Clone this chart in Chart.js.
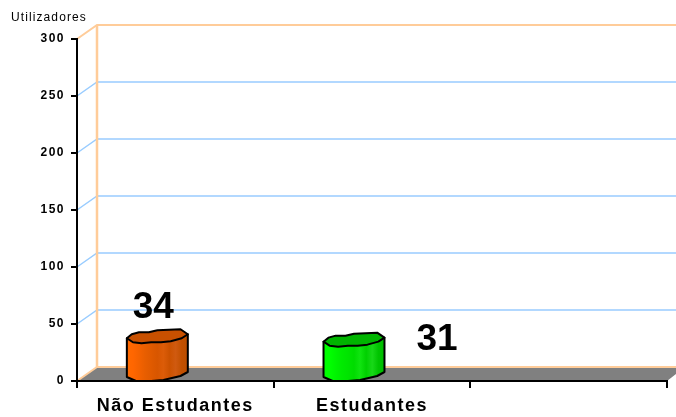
<!DOCTYPE html>
<html lang="pt">
<head>
  <meta charset="UTF-8" />
  <title>Utilizadores</title>
  <script src="https://cdn.jsdelivr.net/npm/chart.js"></script>
  <style>
    body { margin: 0; background: #fff; overflow: hidden; }
    canvas { display: block; }
  </style>
</head>
<body>
  <canvas id="usersChart" width="676" height="417"></canvas>
  <script>
    // Chart data
    const categories = ['Não Estudantes', 'Estudantes', ''];
    const users = [34, 31, null];
    const yTicks = [0, 50, 100, 150, 200, 250, 300];
    const axisTitle = 'Utilizadores';

    // Look of each bar
    const faceStops = [
      ['#ff6a00', '#ff6600', '#f46200', '#e85e00', '#e05a00', '#d85600', '#dc5c08', '#cc5200', '#d05a10', '#c25000', '#bc4e00'],
      ['#00ff00', '#00ff00', '#00f400', '#00ea00', '#00e400', '#00dc00', '#10e410', '#00d000', '#18d818', '#00c400', '#00bc00']
    ];
    const capColors = ['#c85000', '#00b400'];
    const labelOffsets = [[-4, -34], [83, -6]];

    const DEPTH_X = 20, DEPTH_Y = -14, BAR_SHIFT = -18;

    // Outline of the bar, x as share of bar width, y in px from value line or base
    const capBack = [[0.08, -8], [0.2, -10], [0.36, -10], [0.5, -12], [0.88, -13], [1, -8]];
    const capFront = [[0.9, -4], [0.72, -1], [0.56, 0], [0.4, 0], [0.24, 1], [0.1, 0]];
    const bottom = [[1, -8], [0.88, -4], [0.6, 0], [0.4, 1], [0.15, 1], [0, -3]];

    function trace(ctx, points, left, width, yBase) {
      points.forEach(p => ctx.lineTo(left + p[0] * width, yBase + p[1]));
    }

    const scene3d = {
      id: 'scene3d',
      beforeDraw(chart) {
        const ctx = chart.ctx, area = chart.chartArea, y = chart.scales.y;
        const w = chart.width;
        const y0 = y.getPixelForValue(0);
        ctx.letterSpacing = '1.5px';

        // floor
        ctx.fillStyle = '#808080';
        ctx.beginPath();
        ctx.moveTo(area.left, y0);
        ctx.lineTo(area.left + DEPTH_X, y0 + DEPTH_Y);
        ctx.lineTo(w, y0 + DEPTH_Y);
        ctx.lineTo(w, y0 - 7);
        ctx.lineTo(area.right, y0);
        ctx.closePath();
        ctx.fill();

        // back wall lines
        yTicks.forEach(v => {
          const py = y.getPixelForValue(v);
          const edge = v === 0 || v === 300;
          ctx.strokeStyle = edge ? '#ffcc99' : '#99ccff';
          ctx.lineWidth = edge ? 2 : 1.5;
          ctx.beginPath();
          ctx.moveTo(area.left, py);
          ctx.lineTo(area.left + DEPTH_X, py + DEPTH_Y);
          ctx.lineTo(w, py + DEPTH_Y);
          ctx.stroke();
        });
        ctx.strokeStyle = '#ffcc99';
        ctx.lineWidth = 2.5;
        ctx.beginPath();
        ctx.moveTo(area.left + DEPTH_X, y.getPixelForValue(300) + DEPTH_Y);
        ctx.lineTo(area.left + DEPTH_X, y0 + DEPTH_Y);
        ctx.stroke();
      },
      afterDatasetsDraw(chart) {
        const ctx = chart.ctx;
        const bars = chart.getDatasetMeta(0).data;
        bars.forEach((bar, i) => {
          if (users[i] == null) return;
          const left = bar.x - bar.width / 2 + BAR_SHIFT;
          const top = bar.y, base = bar.base;
          ctx.save();
          ctx.lineWidth = 2;
          ctx.strokeStyle = '#000';
          ctx.lineJoin = 'round';

          // body
          const g = ctx.createLinearGradient(left, 0, left + bar.width, 0);
          faceStops[i].forEach((c, k) => g.addColorStop(k / (faceStops[i].length - 1), c));
          ctx.fillStyle = g;
          ctx.beginPath();
          ctx.moveTo(left, top - 4);
          ctx.lineTo(left + bar.width, top - 8);
          trace(ctx, bottom, left, bar.width, base);
          ctx.closePath();
          ctx.fill();
          ctx.stroke();

          // lid
          ctx.fillStyle = capColors[i];
          ctx.beginPath();
          ctx.moveTo(left, top - 4);
          trace(ctx, capBack, left, bar.width, top);
          trace(ctx, capFront, left, bar.width, top);
          ctx.closePath();
          ctx.fill();
          ctx.stroke();

          // value
          ctx.fillStyle = '#000';
          ctx.letterSpacing = '0px';
          ctx.font = 'bold 37px "Liberation Sans", Arial, sans-serif';
          ctx.textAlign = 'center';
          ctx.textBaseline = 'middle';
          ctx.fillText(users[i], left + bar.width / 2 + labelOffsets[i][0], top + labelOffsets[i][1]);
          ctx.restore();
        });

        // axis title
        ctx.save();
        ctx.fillStyle = '#000';
        ctx.letterSpacing = '1.1px';
        ctx.font = '12px "Liberation Sans", Arial, sans-serif';
        ctx.textBaseline = 'middle';
        ctx.textAlign = 'left';
        ctx.fillText(axisTitle, 11, 18);
        ctx.restore();
      }
    };

    new Chart(document.getElementById('usersChart').getContext('2d'), {
      type: 'bar',
      data: {
        labels: categories,
        datasets: [{
          data: users,
          backgroundColor: 'rgba(0, 0, 0, 0)',
          categoryPercentage: 1,
          barPercentage: 0.31
        }]
      },
      plugins: [scene3d],
      options: {
        responsive: false,
        animation: false,
        layout: { padding: { top: 39, right: 9, left: 0, bottom: 0 } },
        plugins: { legend: { display: false }, tooltip: { enabled: false } },
        scales: {
          x: {
            afterFit: s => { s.height = 36; },
            grid: { drawOnChartArea: false, color: '#000', lineWidth: 2, tickLength: 7 },
            border: { color: '#000', width: 2 },
            ticks: {
              color: '#000',
              padding: 7,
              maxRotation: 0,
              autoSkip: false,
              font: { family: '"Liberation Sans", Arial, sans-serif', size: 18, weight: 'bold' }
            }
          },
          y: {
            min: 0,
            max: 300,
            afterFit: s => { s.width = 77; },
            grid: { drawOnChartArea: false, color: '#000', lineWidth: 2, tickLength: 6 },
            border: { color: '#000', width: 2 },
            ticks: {
              color: '#000',
              stepSize: 50,
              padding: 6,
              font: { family: '"Liberation Sans", Arial, sans-serif', size: 12, weight: 'bold' }
            }
          }
        }
      }
    });
  </script>
</body>
</html>
